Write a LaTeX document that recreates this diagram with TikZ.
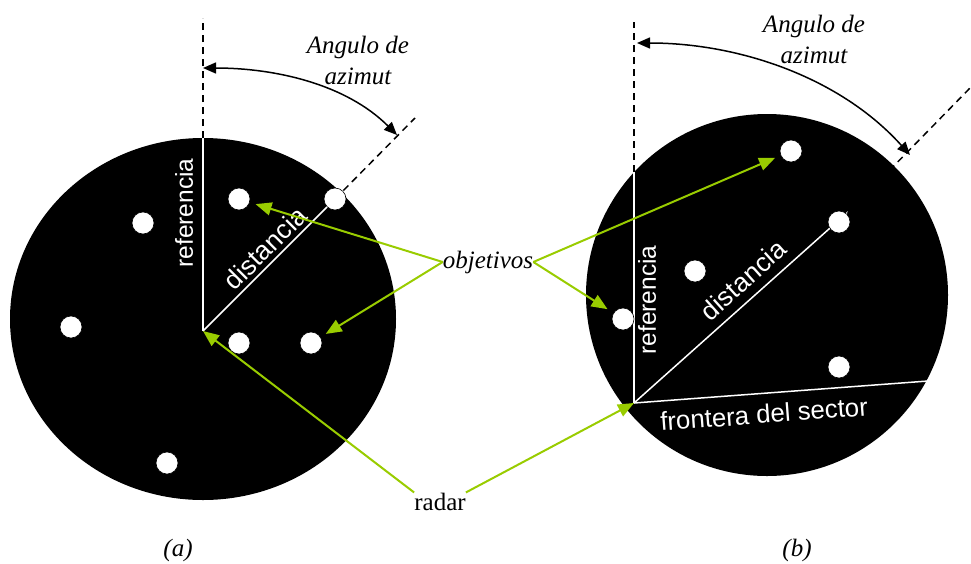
\documentclass[tikz,border=0pt]{standalone}
\usepackage{fontspec}
\setmainfont{Liberation Serif}
\newfontfamily\wsans{Liberation Sans}
\usetikzlibrary{arrows.meta}
\definecolor{lime}{RGB}{153,204,0}
\tikzset{
  disk/.style={fill=black},
  target/.style={circle, fill=white, draw=black, line width=0.6pt, minimum size=22pt, inner sep=0pt},
  wline/.style={white, line width=1.5pt},
  dline/.style={black, line width=1.5pt, dash pattern=on 7pt off 5pt},
  azarc/.style={black, line width=1.5pt, {Triangle[length=13pt,width=11pt]}-{Triangle[length=13pt,width=11pt]}},
  garrow/.style={lime, line width=2pt, -{Triangle[length=16pt,width=13pt]}},
  lbl/.style={font=\fontsize{25}{31}\selectfont\itshape, align=center, inner sep=0pt},
  rlbl/.style={font=\fontsize{25}{31}\selectfont, inner sep=0pt},
  wlbl/.style={font=\wsans\fontsize{24.5}{28}\selectfont, text=white, inner sep=0pt},
  wlblb/.style={wlbl, font=\wsans\fontsize{26.5}{30}\selectfont},
}
\begin{document}
\begin{tikzpicture}[x=1pt,y=-1pt]
\useasboundingbox (0,0) rectangle (971,563);
% disks
\fill[disk] (203,319) ellipse [x radius=193pt, y radius=181pt];
\fill[disk] (767,295) circle [radius=181pt];
% key points
\coordinate (ra) at (203,331);
\coordinate (rb) at (634,403);
\coordinate (ta) at (203,138);
\coordinate (da) at (203,18);
\coordinate (tb) at (634,172);
\coordinate (db) at (634,22);
\coordinate (ea) at (415,118);
\coordinate (eb) at (970,88);
\coordinate (wb) at (848,212);
\coordinate (fb) at (928,381);
% target positions
\coordinate (a1) at (143,223);
\coordinate (a2) at (71,327);
\coordinate (a3) at (167,463);
\coordinate (a4) at (239,199);
\coordinate (a5) at (335,199);
\coordinate (a6) at (239,343);
\coordinate (a7) at (311,343);
\coordinate (b1) at (791,151);
\coordinate (b2) at (839,222);
\coordinate (b3) at (695,271);
\coordinate (b4) at (623,319);
\coordinate (b5) at (839,367);
% lines
\draw[wline] (ra) -- (ta);
\draw[dline] (ta) -- (da);
\draw[wline] (ra) -- (a5);
\draw[dline] (a5) -- (ea);
\draw[wline] (rb) -- (tb);
\draw[dline] (tb) -- (db);
\draw[wline] (rb) -- (wb);
\draw[dline] (b2) -- (eb);
\draw[wline] (rb) -- (fb);
% targets on top
\foreach \t in {a1,a2,a3,a4,a5,a6,a7,b1,b2,b3,b4,b5}
  \node[target] (n\t) at (\t) {};
% white labels
\node[wlbl, rotate=90] (refa) at (184,213) {referencia};
\node[wlblb, rotate=45] (disa) at (265,248) {distancia};
\node[wlbl, rotate=90] (refb) at (647,300) {referencia};
\node[wlblb, rotate=42] (disb) at (743,280) {distancia};
\node[wlbl, font=\wsans\fontsize{25.8}{30}\selectfont, rotate=4.3] (fron) at (764,414) {frontera del sector};
% azimuth arcs
\coordinate (a1s) at (203,68);
\coordinate (a1e) at (397,135);
\draw[azarc] (a1s) .. controls (275,68) and (346,84) .. (a1e);
\coordinate (b1s) at (637,43);
\coordinate (b1e) at (910,155);
\draw[azarc] (b1s) .. controls (740,43) and (841,78) .. (b1e);
\node[lbl, anchor=north] (anga) at (358,36) {Angulo de\\azimut};
\node[lbl, anchor=north] (angb) at (814,15) {Angulo de\\azimut};
% objetivos / radar
\node[lbl, anchor=base] (obj) at (488,268) {objetivos};
\node[rlbl, anchor=base] (radar) at (440,510) {radar};
\draw[garrow, shorten >=6pt] (obj.west) -- (na4);
\draw[garrow, shorten >=6pt] (obj.west) -- (na7);
\draw[garrow, shorten >=7pt] (obj.east) -- (nb4);
\draw[garrow, shorten >=6pt] (obj.east) -- (nb1);
\draw[garrow] (radar.north west) -- (ra);
\draw[garrow] (radar.north east) -- (rb);
% captions
\node[lbl] (capa) at (178,550) {(a)};
\node[lbl] (capb) at (797,550) {(b)};
\end{tikzpicture}
\end{document}
